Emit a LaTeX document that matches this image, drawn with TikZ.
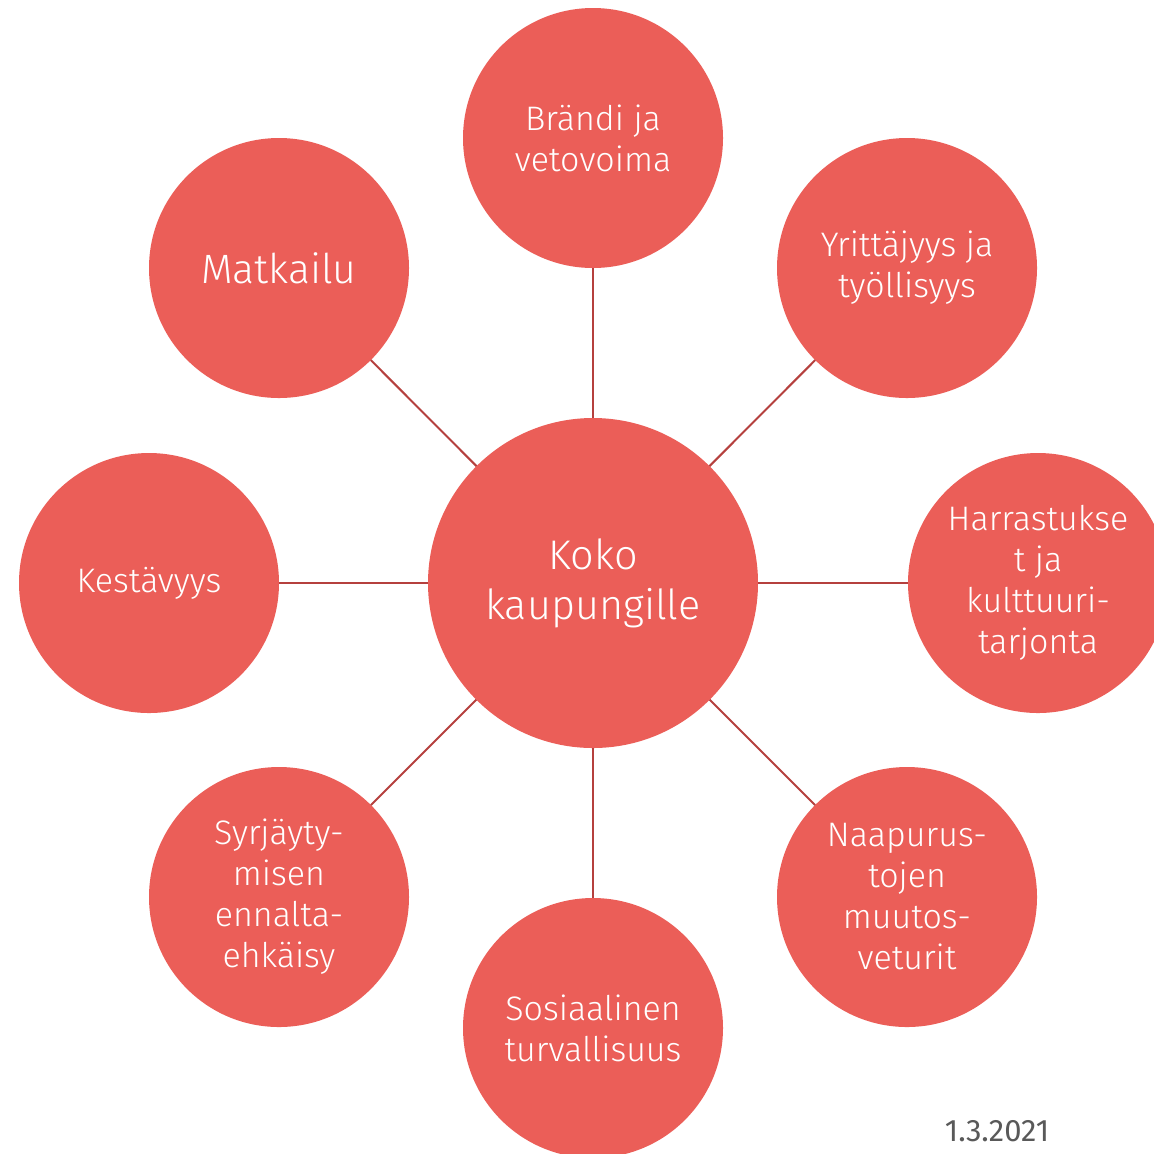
\documentclass[tikz,border=0pt]{standalone}
\usepackage{fontspec}
\setmainfont{Fira Sans Light}
\newfontfamily\datefont{Fira Sans}
\definecolor{circfill}{HTML}{EB5E58}
\definecolor{linkcol}{HTML}{B5403E}
\definecolor{dategray}{HTML}{595959}
\begin{document}
\begin{tikzpicture}[x=0.5pt,y=-0.5pt,
  bubble/.style={circle,fill=circfill,text=white,inner sep=0pt,outer sep=0pt,minimum size=130pt,align=center,font=\fontsize{17}{20.5}\selectfont},
  hub/.style={bubble,minimum size=165pt,font=\fontsize{20.7}{25}\selectfont},
  link/.style={draw=linkcol,line width=1pt}]
\useasboundingbox (0,0) rectangle (1154,1153);
\begin{scope}
\clip (0,0) rectangle (1154,1153);
\node[hub] (c) at (593,583) {Koko\\kaupungille};
\node[bubble] (n) at (593,138) {Brändi ja\\vetovoima};
\node[bubble] (ne) at (907,268) {Yrittäjyys ja\\työllisyys};
\node[bubble] (e) at (1038,583) {Harrastukse\\t ja\\kulttuuri-\\tarjonta};
\node[bubble] (se) at (907,897) {Naapurus-\\tojen\\muutos-\\veturit};
\node[bubble] (s) at (593,1028) {Sosiaalinen\\turvallisuus};
\node[bubble] (sw) at (279,897) {Syrjäyty-\\misen\\ennalta-\\ehkäisy};
\node[bubble] (w) at (149,583) {Kestävyys};
\node[bubble,font=\fontsize{20.5}{25}\selectfont] (nw) at (279,268) {Matkailu};
\foreach \t in {n,ne,e,se,s,sw,w,nw} \draw[link] (c) -- (\t);
\end{scope}
\node[text=dategray,font=\datefont\fontsize{15.5}{18}\selectfont,inner sep=0pt] (date) at (997,1131) {1.3.2021};
\end{tikzpicture}
\end{document}
